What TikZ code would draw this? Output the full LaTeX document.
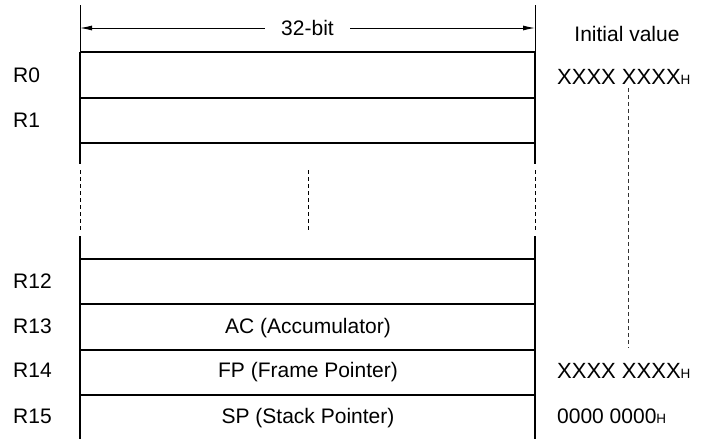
\documentclass[tikz,border=0pt]{standalone}
\usepackage{fontspec}
\setmainfont{Liberation Sans}
\usetikzlibrary{arrows.meta, positioning}

\tikzset{
	regline/.style={line width=2.2pt},
	thinline/.style={line width=0.9pt},
	gapline/.style={line width=1pt, dash pattern=on 4pt off 3pt},
	txt/.style={inner sep=0pt, text height=15pt, text depth=0pt},
}
\newcommand{\hsub}{\fontsize{13.5}{15}\selectfont H}

\begin{document}
\begin{tikzpicture}[x=1pt, y=-1pt, font=\fontsize{21}{24}\selectfont]
			\useasboundingbox (0,0) rectangle (710,439);
			\coordinate (lefttop) at (80,28);
			\coordinate (righttop) at (535,28);
			\draw[thinline] (80,5) -- (80,52);
			\draw[thinline] (535,5) -- (535,52);
			\draw[regline] (80,52) -- (80,164);
			\draw[regline] (535,52) -- (535,164);
			\draw[gapline] (80,170) -- (80,230);
			\draw[gapline] (535,170) -- (535,230);
			\draw[gapline] (308,170) -- (308,230);
			\draw[regline] (80,236) -- (80,439);
			\draw[regline] (535,236) -- (535,439);
			\foreach \y in {52,98,143,259,304,350,395}
				\draw[regline] (80,\y) -- (535,\y);
			\draw[thinline, {Latex[length=12pt,width=5pt]}-{Latex[length=12pt,width=5pt]}] (lefttop) -- (righttop)
				node[midway, fill=white, inner xsep=16pt, inner ysep=2pt] (width) {32-bit};
			\draw[gapline, draw=black!80] (628,88) -- (628,348);
			% register names
			\node[txt, anchor=west] (r0) at (13,75) {R0};
			\node[txt, anchor=west] (r1) at (13,120) {R1};
			\node[txt, anchor=west] (r12) at (13,281) {R12};
			\node[txt, anchor=west] (r13) at (13,326) {R13};
			\node[txt, anchor=west] (r14) at (13,370) {R14};
			\node[txt, anchor=west] (r15) at (13,416) {R15};
			\node[txt] (ac) at (308,326) {AC (Accumulator)};
			\node[txt] (fp) at (308,370) {FP (Frame Pointer)};
			\node[txt] (sp) at (308,416) {SP (Stack Pointer)};
			% initial values
			\node[txt] (init) at (627,34) {Initial value};
			\node[txt, anchor=west, font=\fontsize{22}{24}\selectfont] (v0) at (557,77) {XXXX XXXX\hsub};
			\node[txt, anchor=west, font=\fontsize{22}{24}\selectfont] (v14) at (557,371) {XXXX XXXX\hsub};
			\node[txt, anchor=west] (v15) at (557,416) {0000 0000\hsub};
\end{tikzpicture}
\end{document}
